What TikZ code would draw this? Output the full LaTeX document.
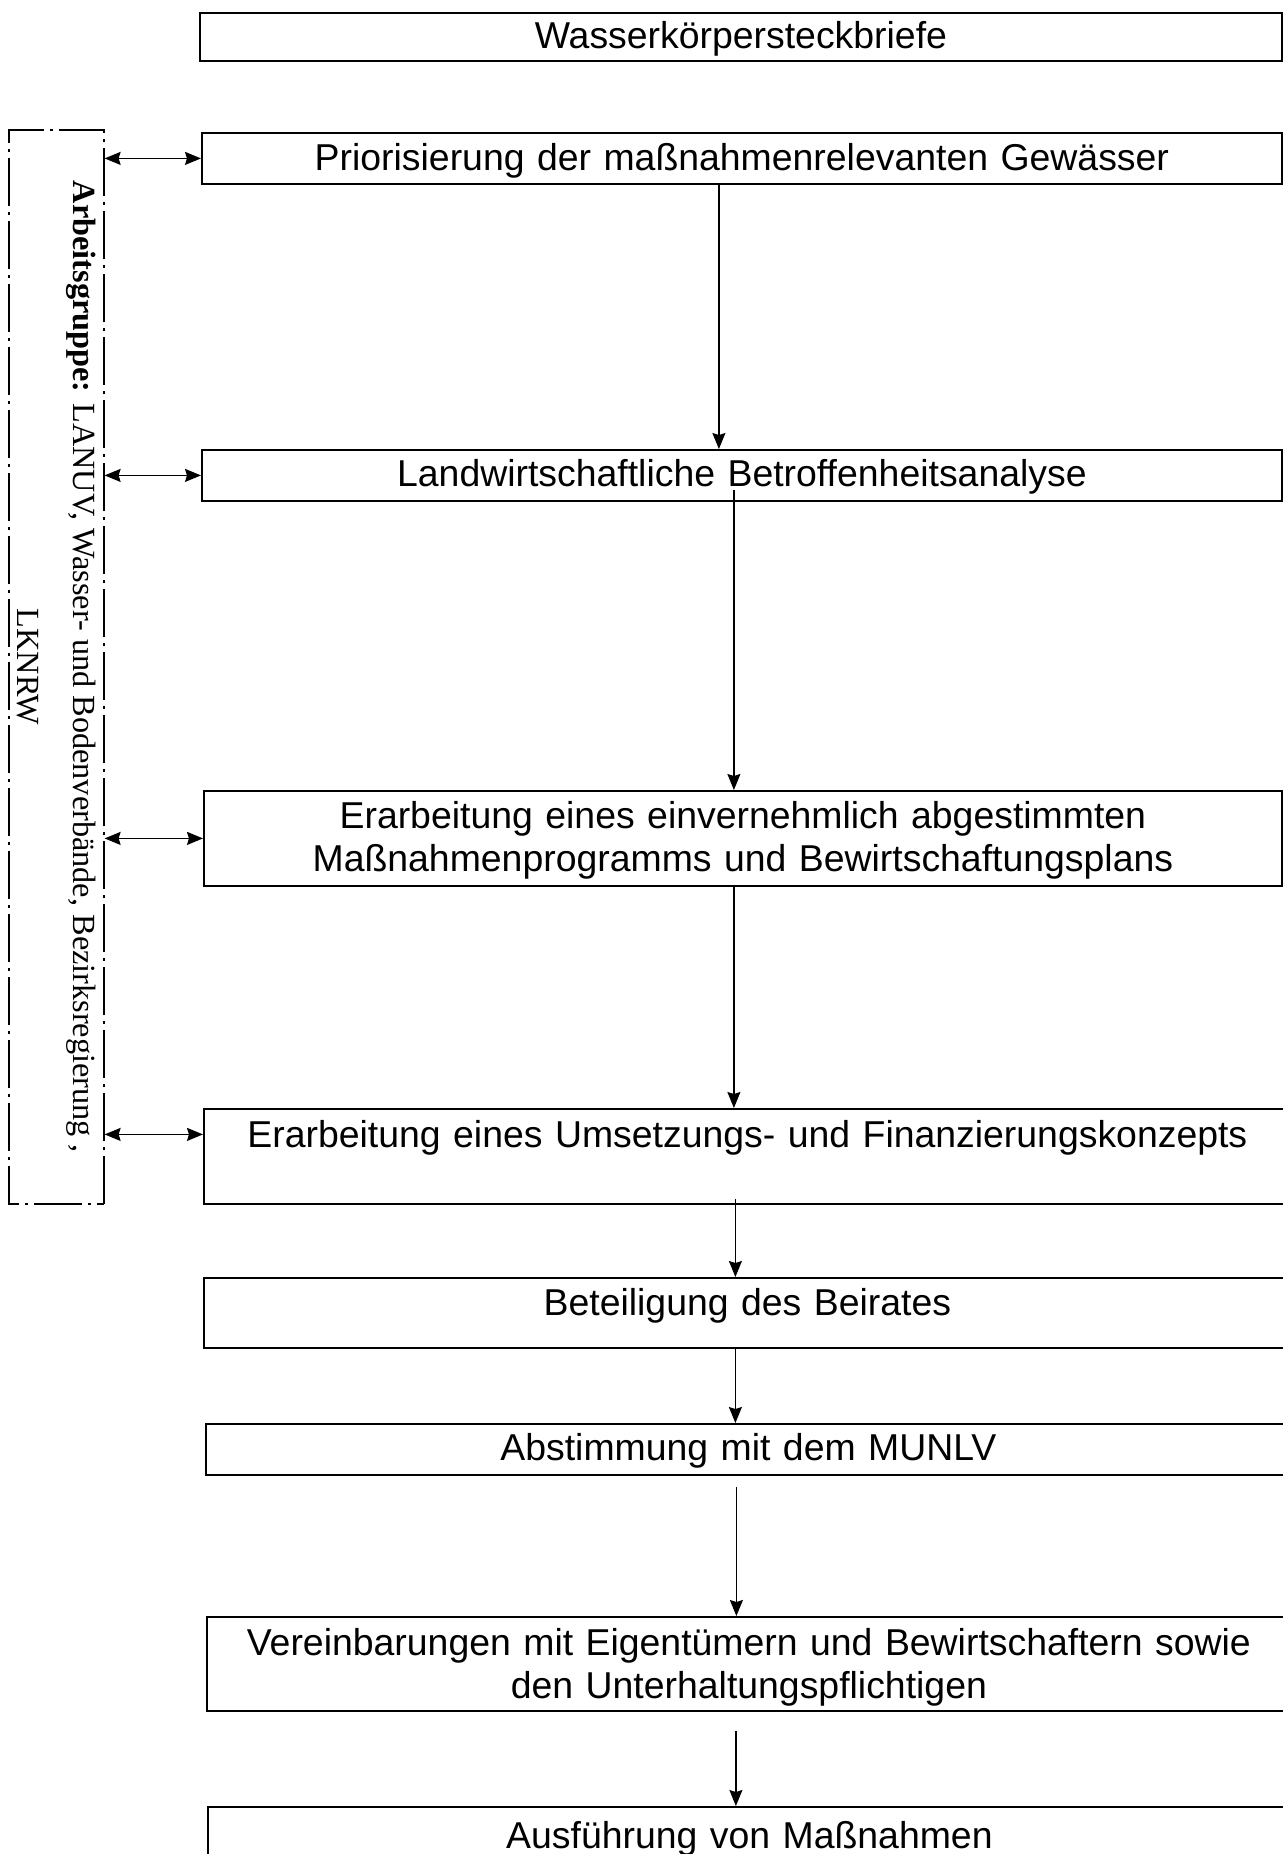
\documentclass[tikz,border=0pt]{standalone}
\usepackage{fontspec}
\setmainfont{Liberation Serif}
\newfontfamily\boxfont{Liberation Sans}
\usetikzlibrary{arrows.meta}

\begin{document}
\begin{tikzpicture}[x=0.5pt,y=-0.5pt,>={Stealth[length=8pt,width=6.5pt,inset=1pt]},
  box/.style={draw,line width=0.9pt,anchor=north west,inner sep=0pt,align=center,
    font=\boxfont\fontsize{18.7}{21.5}\selectfont},
  grpbox/.style={draw,line width=0.6pt,dash pattern=on 24pt off 3pt on 1.5pt off 3pt,
    inner sep=0pt,align=center,font=\fontsize{16.15}{27.7}\selectfont},
  flow/.style={->,line width=0.6pt},
  link/.style={<->,line width=0.8pt}]

\useasboundingbox (0,0) rectangle (1282,1854);

% Schritte
\node[box,text width=541pt,text height=17.7pt,text depth=6.3pt]   (wk)      at (199,12)   {Wasserkörpersteckbriefe};
\node[box,text width=540pt,text height=19pt,text depth=6.5pt]     (prio)    at (201,132)  {Priorisierung der maßnahmenrelevanten Gewässer};
\node[box,text width=540pt,text height=18.5pt,text depth=7pt]     (betr)    at (201,449)  {Landwirtschaftliche Betroffenheitsanalyse};
\node[box,text width=539pt,text height=19pt,text depth=28.5pt]    (mprog)   at (203,790)  {Erarbeitung eines einvernehmlich abgestimmten\\ Maßnahmenprogramms und Bewirtschaftungsplans};
\node[box,text width=543.5pt,text height=19.5pt,text depth=28pt]  (fin)     at (203,1108) {Erarbeitung eines Umsetzungs- und Finanzierungskonzepts};
\node[box,text width=543.5pt,text height=19pt,text depth=16pt]    (beirat)  at (203,1277) {Beteiligung des Beirates};
\node[box,text width=542.5pt,text height=18.5pt,text depth=7pt]   (munlv)   at (205,1423) {Abstimmung mit dem MUNLV};
\node[box,text width=542pt,text height=19.5pt,text depth=27.5pt]  (vereinb) at (206,1616) {Vereinbarungen mit Eigentümern und Bewirtschaftern sowie\\ den Unterhaltungspflichtigen};
\node[box,text width=541.5pt,text height=21pt,text depth=30pt]    (ausf)    at (207,1806) {Ausführung von Maßnahmen};

% Arbeitsgruppe
\node[grpbox,rotate=-90,minimum width=537pt,minimum height=47.5pt] (grp) at (56.5,667)
  {\textbf{Arbeitsgruppe:} LANUV, Wasser- und Bodenverbände, Bezirksregierung ,\\ LKNRW};

\draw[flow] ([xshift=-11.5pt]prio.south) -- ([xshift=-11.5pt]prio.south |- betr.north);
\draw[flow] ([xshift=-4pt,yshift=6pt]betr.south) -- ([xshift=-4pt]betr.south |- mprog.north);
\draw[flow] ([xshift=-4.5pt]mprog.south) -- ([xshift=-4.5pt]mprog.south |- fin.north);
\draw[flow] ([xshift=-6pt,yshift=3pt]fin.south) -- ([xshift=-6pt]fin.south |- beirat.north);
\draw[flow] ([xshift=-6pt]beirat.south) -- ([xshift=-6pt]beirat.south |- munlv.north);
\draw[flow] ([xshift=-6pt,yshift=-5.5pt]munlv.south) -- ([xshift=-6pt]munlv.south |- vereinb.north);
\draw[flow] ([xshift=-6.5pt,yshift=-9.5pt]vereinb.south) -- ([xshift=-6.5pt]vereinb.south |- ausf.north);

\coordinate (finl) at ([yshift=11pt]fin.west);
\draw[link] (prio.west -| grp.north) -- (prio.west);
\draw[link] (betr.west -| grp.north) -- (betr.west);
\draw[link] (mprog.west -| grp.north) -- (mprog.west);
\draw[link] (finl -| grp.north) -- (finl);

\end{tikzpicture}
\end{document}
